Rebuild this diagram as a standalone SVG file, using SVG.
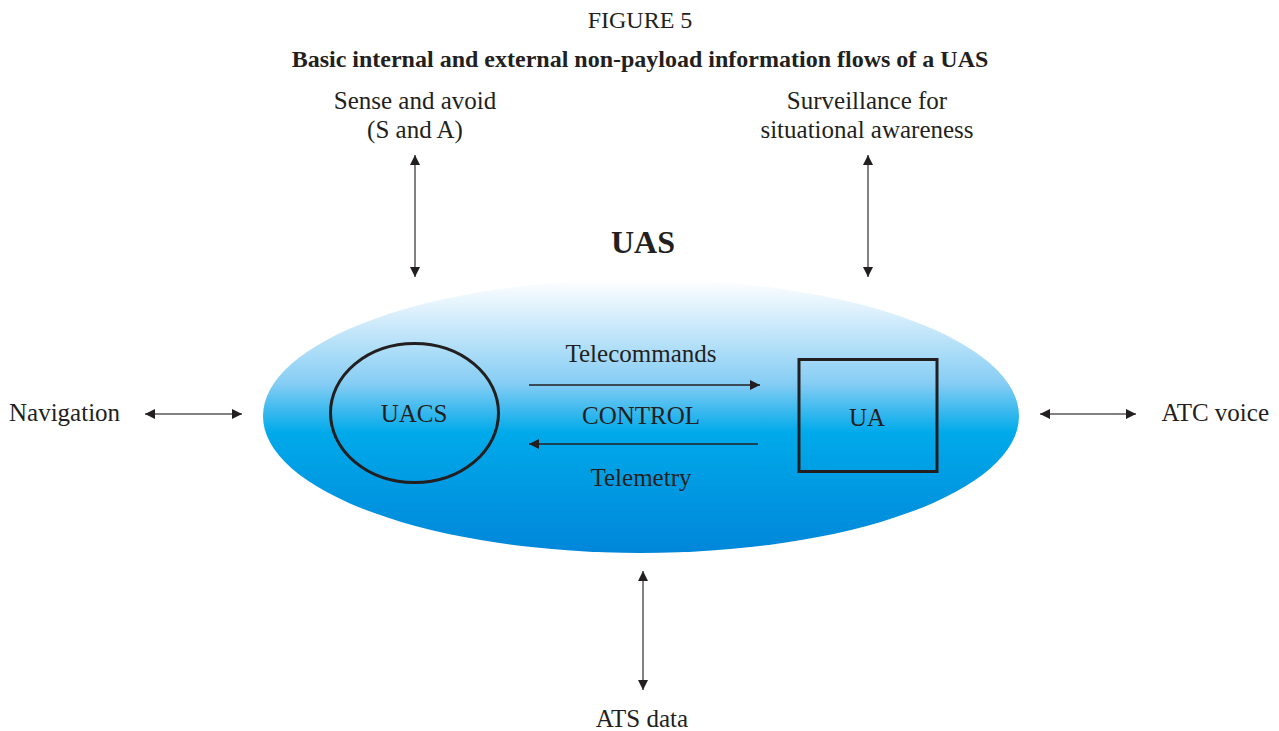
<svg xmlns="http://www.w3.org/2000/svg" width="1279" height="731" viewBox="0 0 1279 731">
  <style>
    text { font-family: "Liberation Serif", "Times New Roman", serif; fill: #231f20; }
    .lbl { font-size: 25px; }
    .mid { text-anchor: middle; }
    .link { stroke: #595959; stroke-width: 1.5; fill: none; marker-start: url(#head); marker-end: url(#head); }
    .flow { stroke: #231f20; stroke-width: 1.5; fill: none; marker-end: url(#head); }
  </style>
  <defs>
    <linearGradient id="sky" x1="0" y1="0" x2="0" y2="1">
      <stop offset="0" stop-color="#ffffff"/>
      <stop offset="0.12" stop-color="#dcf0fc"/>
      <stop offset="0.38" stop-color="#86cdf4"/>
      <stop offset="0.56" stop-color="#00aaea"/>
      <stop offset="1" stop-color="#0086d9"/>
    </linearGradient>
    <marker id="head" viewBox="0 0 10 10" refX="10" refY="5" markerWidth="11" markerHeight="10" markerUnits="userSpaceOnUse" orient="auto-start-reverse">
      <path d="M0,0 L10,5 L0,10 Z" fill="#231f20"/>
    </marker>
  </defs>

  <text x="640" y="28" class="mid" style="font-size:24px">FIGURE 5</text>
  <text x="640" y="67" class="mid" style="font-size:24px;font-weight:bold">Basic internal and external non-payload information flows of a UAS</text>

  <g id="uas">
    <ellipse cx="641" cy="416" rx="378" ry="137" fill="url(#sky)"/>
    <text x="643" y="253" class="mid" style="font-size:32px;font-weight:bold">UAS</text>
  </g>

  <g id="uacs">
    <ellipse cx="414.5" cy="413" rx="84" ry="69.5" fill="none" stroke="#231f20" stroke-width="3"/>
    <text x="414" y="422" class="lbl mid">UACS</text>
  </g>

  <g id="ua">
    <rect x="799" y="359.5" width="138" height="112" fill="none" stroke="#231f20" stroke-width="3"/>
    <text x="867" y="426" class="lbl mid">UA</text>
  </g>

  <g id="sense-avoid">
    <text x="415" y="109" class="lbl mid">Sense and avoid</text>
    <text x="415" y="138" class="lbl mid">(S and A)</text>
  </g>
  <g id="surveillance">
    <text x="867" y="109" class="lbl mid">Surveillance for</text>
    <text x="867" y="138" class="lbl mid">situational awareness</text>
  </g>
  <g id="navigation">
    <text x="9" y="421" class="lbl">Navigation</text>
  </g>
  <g id="atc-voice">
    <text x="1269" y="421" class="lbl" text-anchor="end">ATC voice</text>
  </g>
  <g id="ats-data">
    <text x="642" y="727" class="lbl mid">ATS data</text>
  </g>

  <g id="connectors">
    <line class="link" x1="415" y1="155" x2="415" y2="277"/>
    <line class="link" x1="868" y1="155" x2="868" y2="277"/>
    <line class="link" x1="643" y1="571" x2="643" y2="690"/>
    <line class="link" x1="145" y1="414" x2="242" y2="414"/>
    <line class="link" x1="1040" y1="414" x2="1136" y2="414"/>
    <line class="flow" x1="529" y1="385" x2="760" y2="385"/>
    <line class="flow" x1="758" y1="444" x2="529" y2="444"/>
    <text x="641" y="362" class="lbl mid">Telecommands</text>
    <text x="641" y="424" class="lbl mid">CONTROL</text>
    <text x="641" y="486" class="lbl mid">Telemetry</text>
  </g>
</svg>
